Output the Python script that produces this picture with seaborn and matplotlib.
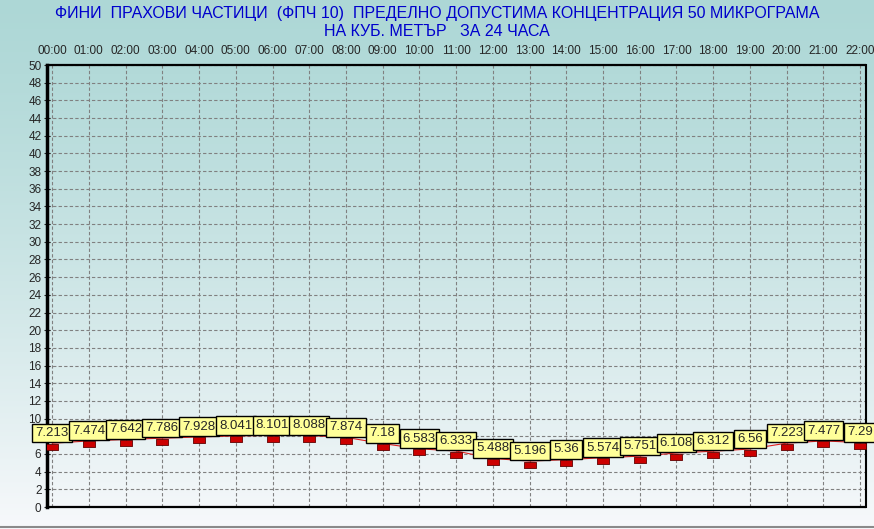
import numpy as np
import pandas as pd
import matplotlib
matplotlib.use("Agg")
import matplotlib.pyplot as plt
import seaborn as sns

hours = ["00:00", "01:00", "02:00", "03:00", "04:00", "05:00", "06:00", "07:00",
         "08:00", "09:00", "10:00", "11:00", "12:00", "13:00", "14:00", "15:00",
         "16:00", "17:00", "18:00", "19:00", "20:00", "21:00", "22:00"]
pm10 = [7.213, 7.474, 7.642, 7.786, 7.928, 8.041, 8.101, 8.088, 7.874, 7.18,
        6.583, 6.333, 5.488, 5.196, 5.36, 5.574, 5.751, 6.108, 6.312, 6.56,
        7.223, 7.477, 7.29]
labels = ["7.213", "7.474", "7.642", "7.786", "7.928", "8.041", "8.101", "8.088",
          "7.874", "7.18", "6.583", "6.333", "5.488", "5.196", "5.36", "5.574",
          "5.751", "6.108", "6.312", "6.56", "7.223", "7.477", "7.29"]
title = ("ФИНИ  ПРАХОВИ ЧАСТИЦИ  (ФПЧ 10)  ПРЕДЕЛНО ДОПУСТИМА КОНЦЕНТРАЦИЯ 50 МИКРОГРАМА\n"
         "НА КУБ. МЕТЪР   ЗА 24 ЧАСА")

df = pd.DataFrame({"x": np.arange(len(hours)), "value": pm10})

sns.set_style("white")
plt.rcParams["font.family"] = ["Liberation Sans", "DejaVu Sans"]

fig = plt.figure(figsize=(8.74, 5.29), dpi=100)

# background gradient over the whole figure
bg = fig.add_axes([0, 0, 1, 1])
grad = np.linspace(0, 1, 256).reshape(-1, 1)
top_c = np.array([0.68, 0.845, 0.84])
bot_c = np.array([0.97, 0.975, 0.985])
img = top_c + (bot_c - top_c) * grad[..., None] ** 1.3
bg.imshow(img.reshape(256, 1, 3), aspect="auto", extent=[0, 1, 0, 1])
bg.set_axis_off()
bg.plot([0, 1], [0.004, 0.004], color="#8a8a8a", lw=1.5)

ax = fig.add_axes([47 / 874, 1 - 507 / 529, 819 / 874, 442 / 529])
ax.set_facecolor("none")

rect = [(-1, -0.55), (1, -0.55), (1, 0.55), (-1, 0.55), (-1, -0.55)]
sns.lineplot(data=df, x="x", y="value", ax=ax, color="#e02020", lw=0.8)
ax.scatter(df["x"], df["value"] - 0.4, marker=rect, s=70, color="#cc0000",
           edgecolor="#600000", linewidth=0.6, zorder=4)
for xi, yi, lab in zip(df["x"], df["value"], labels):
    ax.annotate(lab, (xi, yi), xytext=(0, 3), textcoords="offset points",
                ha="center", va="bottom", fontsize=9.5, zorder=5,
                bbox=dict(boxstyle="square,pad=0.25", fc="#ffff99", ec="black", lw=1))

ax.set_xlim(-0.14, 22.16)
ax.set_ylim(0, 50)
ax.set_yticks(range(0, 51, 2))
ax.set_xticks(range(len(hours)))
ax.set_xticklabels(hours)
ax.xaxis.tick_top()
ax.tick_params(axis="x", labelsize=8.5, length=0, pad=6)
ax.tick_params(axis="y", labelsize=8.5, length=4, direction="inout", left=True, pad=2)
ax.set_xlabel("")
ax.set_ylabel("")
ax.grid(True, color="#808080", ls=(0, (3, 2)), lw=0.8)

for side in ["top", "bottom"]:
    ax.spines[side].set_linestyle((0, (2, 1)))
    ax.spines[side].set_linewidth(1.6)
    ax.spines[side].set_color("black")
ax.spines["left"].set_linewidth(2.5)
ax.spines["left"].set_color("black")
ax.spines["right"].set_linewidth(1.5)
ax.spines["right"].set_color("black")

fig.text(0.5, 1 - 6 / 529, title, ha="center", va="top", color="#0000cc",
         fontsize=11.5, linespacing=1.25)

fig.savefig("out.png", dpi=100)
